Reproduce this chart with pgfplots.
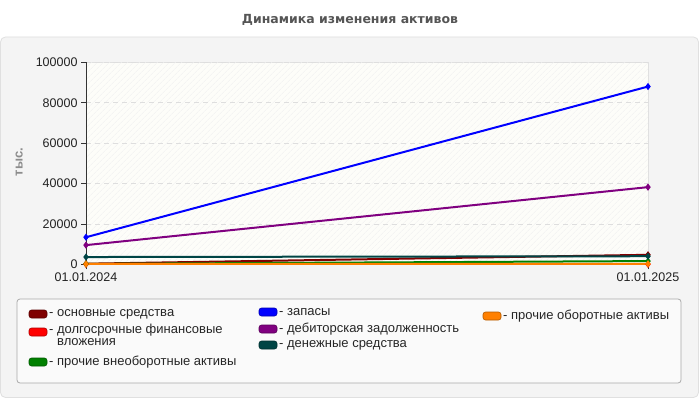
\documentclass[border=0pt]{standalone}
\usepackage{fontspec}
\setmainfont{Liberation Sans}
\newfontfamily\titlefont{DejaVu Sans}
\usepackage{pgfplots}
\pgfplotsset{compat=1.18}
\usetikzlibrary{patterns.meta}

\definecolor{osn}{HTML}{800000}
\definecolor{dolg}{HTML}{FF0000}
\definecolor{vneob}{HTML}{008000}
\definecolor{zap}{HTML}{0000FF}
\definecolor{deb}{HTML}{800080}
\definecolor{den}{HTML}{004545}
\definecolor{proch}{HTML}{FF8000}
\definecolor{panel}{HTML}{F4F4F4}
\definecolor{panelline}{HTML}{E0E0E0}
\definecolor{legbg}{HTML}{FAFAFA}
\definecolor{legline}{HTML}{AAAAAA}
\definecolor{plotbg}{HTML}{FDFDF9}
\definecolor{axisdark}{HTML}{333333}
\definecolor{tickc}{HTML}{222222}
\definecolor{titlegray}{HTML}{555555}

\newcommand\legitem[4]{%
  \draw[draw=#3!70!black, fill=#3, rounded corners=2.5pt, line width=0.6pt]
    (#1-9,#2-4) rectangle (#1+9,#2+4);
  \node[anchor=west, inner sep=0pt, align=left,
        font=\fontsize{13}{11}\selectfont, text=black!85]
    at (#1+11,#2) {#4};%
}

\begin{document}
\begin{tikzpicture}[x=1pt,y=1pt]
\useasboundingbox (0,0) rectangle (700,400);
\fill[white] (0,0) rectangle (700,400);
\draw[draw=panelline, fill=panel, rounded corners=5pt, line width=0.8pt]
  (0.5,2.5) rectangle (698.5,363);
\node[font=\titlefont\bfseries\fontsize{12.5}{14}\selectfont, text=titlegray]
  at (350,380) {Динамика изменения активов};

\begin{axis}[
    at={(86pt,135.7pt)}, anchor=south west,
    width=562pt, height=202pt, scale only axis,
    xmin=0, xmax=1, ymin=0, ymax=100000,
    clip=false,
    axis background/.style={fill=plotbg, draw=black!12,
      postaction={pattern={Lines[angle=45,distance=4pt,line width=0.5pt]},
                  pattern color=black!6}},
    axis x line*=bottom, axis y line*=left,
    axis line style={draw=axisdark, line width=0.8pt, -},
    xtick={0,1}, xticklabels={01.01.2024,01.01.2025},
    ytick={0,20000,40000,60000,80000,100000},
    scaled y ticks=false,
    /pgf/number format/fixed,
    /pgf/number format/1000 sep={},
    /pgf/number format/assume math mode=true,
    tick label style={font=\fontsize{12.5}{14}\selectfont, text=tickc},
    tick align=outside, major tick length=5pt,
    tick style={draw=axisdark, line width=0.8pt},
    ymajorgrids, grid style={dash pattern=on 5pt off 4pt, draw=black!13, line width=0.8pt},
    ylabel={тыс.},
    ylabel style={at={(axis description cs:-0.119,0.506)}, anchor=center,
      font=\bfseries\fontsize{13}{14}\selectfont, text=black!45},
    every axis plot/.append style={line width=2pt, mark=diamond*,
      mark size=2pt, mark options={solid}},
  ]
  % основные средства
  \addplot[osn] coordinates {(0,300) (1,4700)};
  % долгосрочные финансовые вложения
  \addplot[dolg] coordinates {(0,0) (1,0)};
  % прочие внеоборотные активы
  \addplot[vneob] coordinates {(0,200) (1,1600)};
  % запасы
  \addplot[zap] coordinates {(0,13400) (1,88000)};
  % дебиторская задолженность
  \addplot[deb] coordinates {(0,9500) (1,38200)};
  % денежные средства
  \addplot[den] coordinates {(0,3600) (1,4000)};
  % прочие оборотные активы
  \addplot[proch] coordinates {(0,150) (1,250)};
\end{axis}

% legend
\draw[draw=legline, fill=legbg, rounded corners=3pt, line width=0.8pt]
  (17,17) rectangle (681,101);
\legitem{38}{86}{osn}{- основные средства}
\draw[draw=dolg!70!black, fill=dolg, rounded corners=2.5pt, line width=0.6pt]
  (29,64) rectangle (47,72);
\node[anchor=north west, inner sep=0pt, align=left,
      font=\fontsize{13}{12.5}\selectfont, text=black!85]
  at (49,76.5) {- долгосрочные финансовые\\\hphantom{- }вложения};
\legitem{38}{38}{vneob}{- прочие внеоборотные активы}
\legitem{268}{88}{zap}{- запасы}
\legitem{268}{71}{deb}{- дебиторская задолженность}
\legitem{268}{55}{den}{- денежные средства}
\legitem{492}{84}{proch}{- прочие оборотные активы}
\end{tikzpicture}
\end{document}
